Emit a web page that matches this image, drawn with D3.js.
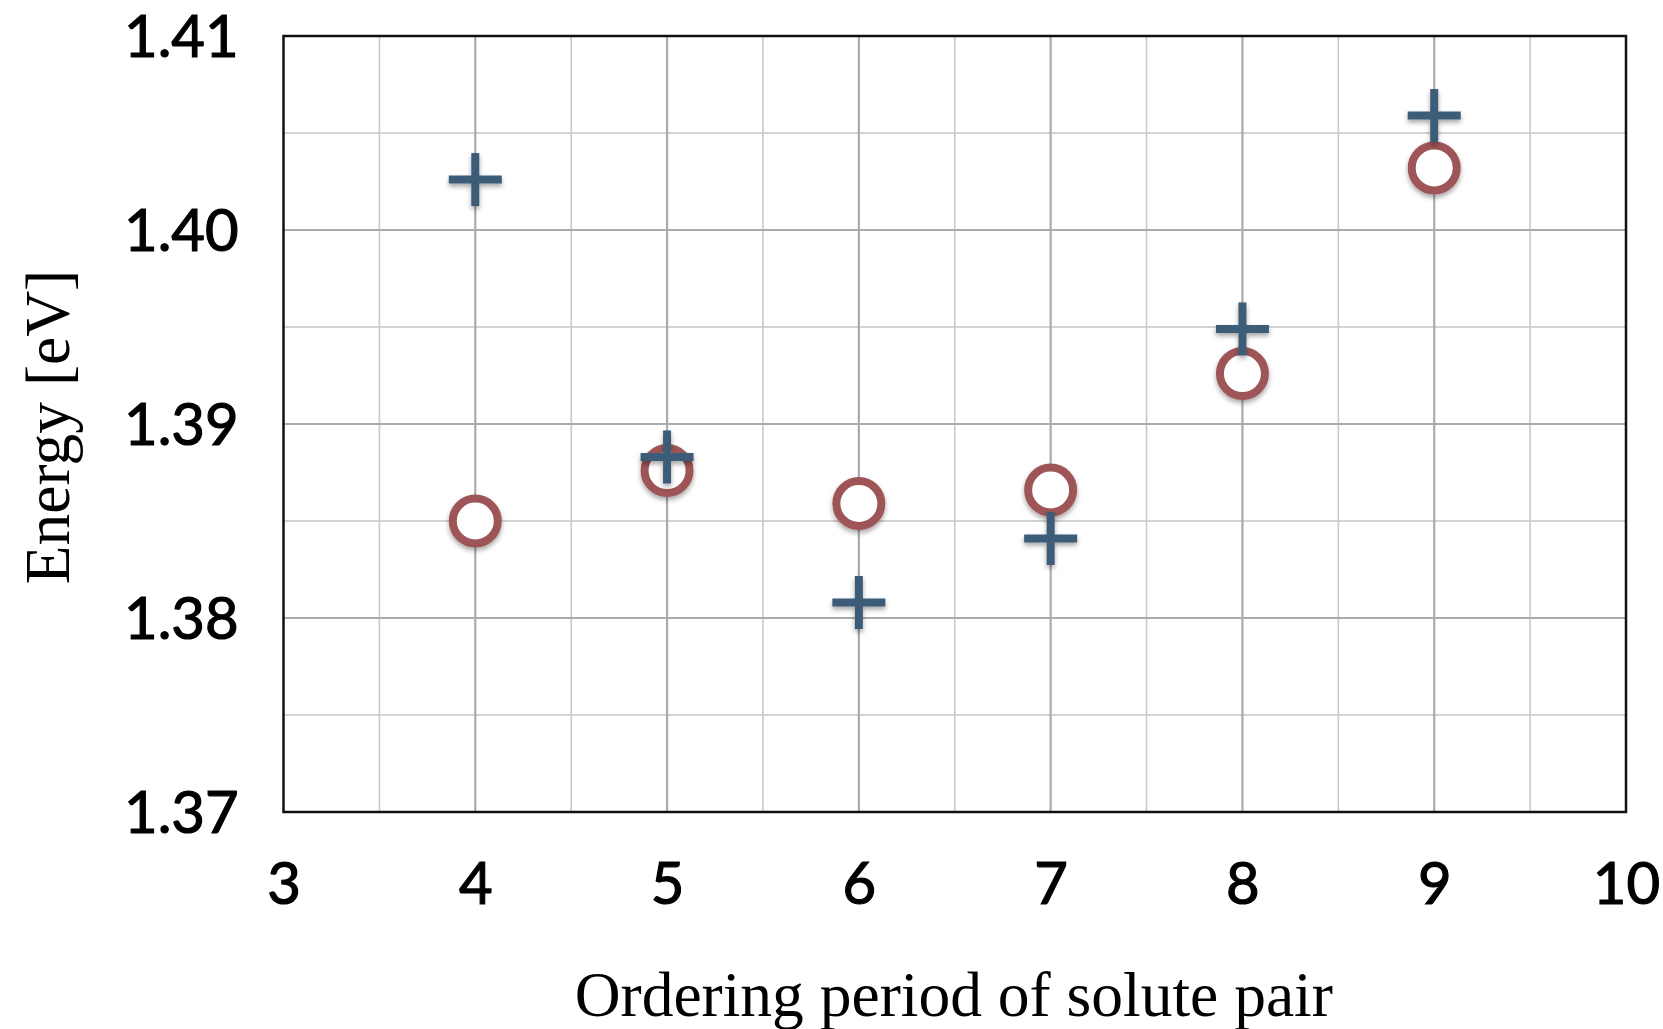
<!DOCTYPE html>
<html>
<head>
<meta charset="utf-8">
<script src="https://cdn.jsdelivr.net/npm/d3@7"></script>
<style>
  html, body { margin: 0; padding: 0; background: #fff; }
  svg { display: block; }
  .tick-label { font-family: Lato, "Open Sans", sans-serif; font-size: 58px; fill: #000; stroke: #000; stroke-width: 1.2px; }
  .axis-title { font-family: "Liberation Serif", "DejaVu Serif", serif; font-size: 63.5px; fill: #000; }
</style>
</head>
<body>
<svg id="chart" width="1663" height="1029"></svg>
<script>
// Ordering period of the solute pair
const periods = [4, 5, 6, 7, 8, 9];
// Energy of each configuration [eV]
const energyPlus   = [1.4026, 1.3883, 1.3808, 1.3841, 1.3949, 1.4059];
const energyCircle = [1.3850, 1.3876, 1.3859, 1.3866, 1.3926, 1.4032];

const xTicks = [3, 4, 5, 6, 7, 8, 9, 10];
const yTicks = [1.37, 1.38, 1.39, 1.40, 1.41];
const yTickLabels = ["1.37", "1.38", "1.39", "1.40", "1.41"];

const W = 1663, H = 1029;
const plot = { left: 283.5, right: 1626, top: 36, bottom: 812 };

const svg = d3.select("#chart");

const x = d3.scaleLinear().domain([3, 10]).range([plot.left, plot.right]);
const y = d3.scaleLinear().domain([1.37, 1.41]).range([plot.bottom, plot.top]);

// soft drop shadow under the markers
const defs = svg.append("defs");
const f = defs.append("filter").attr("id", "shadow")
  .attr("x", "-50%").attr("y", "-50%").attr("width", "200%").attr("height", "200%");
f.append("feDropShadow").attr("dx", 0).attr("dy", 3).attr("stdDeviation", 2.5)
  .attr("flood-color", "#000").attr("flood-opacity", 0.35);

// grid: half-unit minor lines and integer major lines
const xMinor = d3.range(3.5, 10, 1);
const xMajor = d3.range(4, 10, 1);
const yMinor = d3.range(1.375, 1.41, 0.01);
const yMajor = [1.38, 1.39, 1.40];

const grid = svg.append("g");
grid.selectAll(".vmin").data(xMinor).join("line")
  .attr("x1", d => x(d)).attr("x2", d => x(d))
  .attr("y1", plot.top).attr("y2", plot.bottom)
  .attr("stroke", "#cacaca").attr("stroke-width", 1.6);
grid.selectAll(".hmin").data(yMinor).join("line")
  .attr("x1", plot.left).attr("x2", plot.right)
  .attr("y1", d => y(d)).attr("y2", d => y(d))
  .attr("stroke", "#c4c4c4").attr("stroke-width", 1.6);
grid.selectAll(".vmaj").data(xMajor).join("line")
  .attr("x1", d => x(d)).attr("x2", d => x(d))
  .attr("y1", plot.top).attr("y2", plot.bottom)
  .attr("stroke", "#ababab").attr("stroke-width", 2.2);
grid.selectAll(".hmaj").data(yMajor).join("line")
  .attr("x1", plot.left).attr("x2", plot.right)
  .attr("y1", d => y(d)).attr("y2", d => y(d))
  .attr("stroke", "#ababab").attr("stroke-width", 2.2);

// frame
svg.append("rect")
  .attr("x", plot.left).attr("y", plot.top)
  .attr("width", plot.right - plot.left).attr("height", plot.bottom - plot.top)
  .attr("fill", "none").attr("stroke", "#111").attr("stroke-width", 2.5);

// x axis labels
const xAxis = svg.append("g")
  .attr("transform", `translate(0,${plot.bottom})`)
  .call(d3.axisBottom(x).tickValues(xTicks).tickSize(0).tickFormat(d3.format("d")));
xAxis.select(".domain").remove();
xAxis.selectAll("text")
  .attr("class", "tick-label")
  .attr("y", 71).attr("dy", "0.36em")
  .attr("font-family", null).attr("font-size", null);

// y axis labels
const yAxis = svg.append("g")
  .attr("transform", `translate(${plot.left},0)`)
  .call(d3.axisLeft(y).tickValues(yTicks).tickSize(0)
    .tickFormat((d, i) => yTickLabels[i]));
yAxis.select(".domain").remove();
yAxis.selectAll("text")
  .attr("class", "tick-label")
  .attr("text-anchor", "start")
  .attr("x", 124 - plot.left).attr("dy", "0.36em")
  .attr("font-family", null).attr("font-size", null);

// axis titles
svg.append("text").attr("class", "axis-title")
  .attr("x", (plot.left + plot.right) / 2 - 1).attr("y", 995)
  .attr("dy", "0.33em").attr("text-anchor", "middle")
  .text("Ordering period of solute pair");

svg.append("text").attr("class", "axis-title")
  .attr("transform", `translate(48,${(plot.top + plot.bottom) / 2 + 3}) rotate(-90)`)
  .attr("dy", "0.33em").attr("text-anchor", "middle")
  .text("Energy [eV]");

// open circle markers
const circleData = periods.map((p, i) => ({ p, e: energyCircle[i] }));
svg.append("g").attr("filter", "url(#shadow)")
  .selectAll("circle").data(circleData).join("circle")
  .attr("cx", d => x(d.p)).attr("cy", d => y(d.e))
  .attr("r", 22.5)
  .attr("fill", "#fff").attr("stroke", "#9e5558").attr("stroke-width", 8);

// plus markers
const plusData = periods.map((p, i) => ({ p, e: energyPlus[i] }));
const arm = 26.5;
const plusG = svg.append("g").attr("filter", "url(#shadow)")
  .selectAll("g").data(plusData).join("g")
  .attr("transform", d => `translate(${x(d.p)},${y(d.e)})`);
plusG.append("line").attr("x1", -arm).attr("x2", arm).attr("y1", 0).attr("y2", 0)
  .attr("stroke", "#3e5c77").attr("stroke-width", 8);
plusG.append("line").attr("x1", 0).attr("x2", 0).attr("y1", -arm).attr("y2", arm)
  .attr("stroke", "#3e5c77").attr("stroke-width", 8);
</script>
</body>
</html>
